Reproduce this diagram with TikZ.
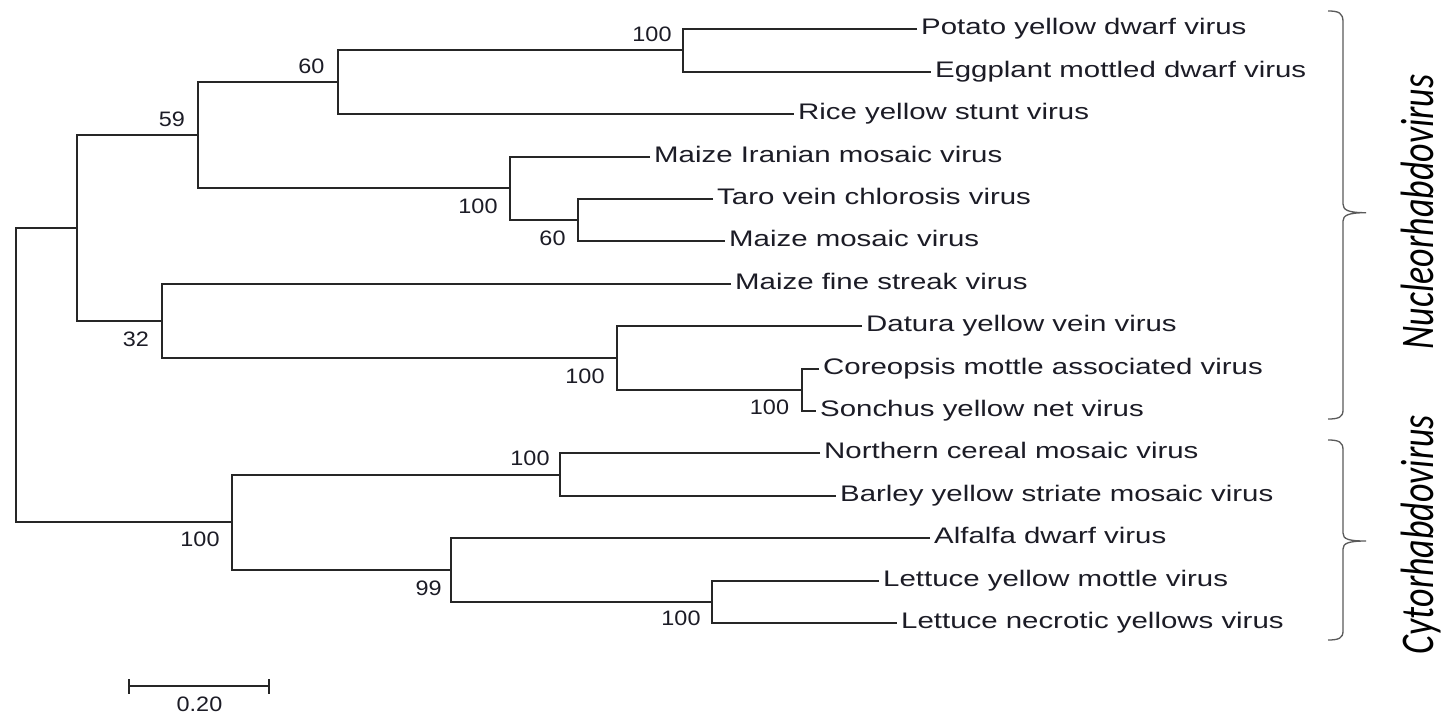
\documentclass[tikz,border=0pt]{standalone}
\usepackage{graphicx}
\usepackage{fontspec}
\setmainfont{Liberation Sans}
\newfontfamily\genusfont{Carlito}
\newcommand\lbx[1]{\scalebox{1.307}[1]{#1}}
\newcommand\nbx[1]{\scalebox{1.12}[1]{#1}}
\newcommand\gbx[1]{\scalebox{1}[1.3]{#1}}
\definecolor{linec}{HTML}{262626}
\definecolor{textc}{HTML}{1C1C26}
\definecolor{bracec}{HTML}{5A5A5A}
\begin{document}
\begin{tikzpicture}[x=1pt,y=-1pt,
  br/.style={draw=linec,line width=2pt,line join=miter},
  leaf/.style={anchor=west,inner xsep=4pt,inner ysep=0pt,text height=10pt,text depth=0pt,
    text=textc,font=\fontsize{22.5pt}{25pt}\selectfont},
  bs/.style={inner sep=0pt,text height=15pt,text depth=0pt,text=textc,
    font=\fontsize{20.9pt}{23pt}\selectfont},
  genus/.style={rotate=90,anchor=base,inner sep=0pt,text=black,
    font=\genusfont\itshape\fontsize{36pt}{40pt}\selectfont},
  brace/.style={draw=bracec,line width=1.3pt}]
\fill[white] (0,0) rectangle (1443,715);
\useasboundingbox (0,0) rectangle (1443,715);

% leaves
\node[leaf] (L0)  at (917,29)  {\lbx{Potato yellow dwarf virus}};
\node[leaf] (L1)  at (931,72)  {\lbx{Eggplant mottled dwarf virus}};
\node[leaf] (L2)  at (794,114) {\lbx{Rice yellow stunt virus}};
\node[leaf] (L3)  at (650,157) {\lbx{Maize Iranian mosaic virus}};
\node[leaf] (L4)  at (713,199) {\lbx{Taro vein chlorosis virus}};
\node[leaf] (L5)  at (725,241) {\lbx{Maize mosaic virus}};
\node[leaf] (L6)  at (731,284) {\lbx{Maize fine streak virus}};
\node[leaf] (L7)  at (862,326) {\lbx{Datura yellow vein virus}};
\node[leaf] (L8)  at (819,369) {\lbx{Coreopsis mottle associated virus}};
\node[leaf] (L9)  at (816,411) {\lbx{Sonchus yellow net virus}};
\node[leaf] (L10) at (820,453) {\lbx{Northern cereal mosaic virus}};
\node[leaf] (L11) at (836,496) {\lbx{Barley yellow striate mosaic virus}};
\node[leaf] (L12) at (930,538) {\lbx{Alfalfa dwarf virus}};
\node[leaf] (L13) at (879,581) {\lbx{Lettuce yellow mottle virus}};
\node[leaf] (L14) at (897,623) {\lbx{Lettuce necrotic yellows virus}};

% internal nodes
\coordinate (nPE) at (683,50);
\coordinate (n60) at (338,82);
\coordinate (nTM) at (578,220);
\coordinate (nMI) at (510,188);
\coordinate (n59) at (198,135);
\coordinate (nCS) at (802,390);
\coordinate (nD)  at (617,358);
\coordinate (n32) at (162,321);
\coordinate (nA)  at (77,228);
\coordinate (nNB) at (560,475);
\coordinate (nLL) at (712,602);
\coordinate (n99) at (451,570);
\coordinate (nC)  at (232,522);
\coordinate (root) at (16,375);

% branches
\draw[br] (L0.west) -| (nPE) |- (L1.west);
\draw[br] (nPE) -| (n60) |- (L2.west);
\draw[br] (L4.west) -| (nTM) |- (L5.west);
\draw[br] (L3.west) -| (nMI) |- (nTM);
\draw[br] (n60) -| (n59) |- (nMI);
\draw[br] (L8.west) -| (nCS) |- (L9.west);
\draw[br] (L7.west) -| (nD) |- (nCS);
\draw[br] (L6.west) -| (n32) |- (nD);
\draw[br] (n59) -| (nA) |- (n32);
\draw[br] (L10.west) -| (nNB) |- (L11.west);
\draw[br] (L13.west) -| (nLL) |- (L14.west);
\draw[br] (L12.west) -| (n99) |- (nLL);
\draw[br] (nNB) -| (nC) |- (n99);
\draw[br] (nA) -| (root) |- (nC);

% bootstrap values
\node[bs] (b1)  at (652,34)      {\nbx{100}};
\node[bs] (b2)  at (311.5,65.5)  {\nbx{60}};
\node[bs] (b3)  at (172,118.5)   {\nbx{59}};
\node[bs] (b4)  at (478,205.5)   {\nbx{100}};
\node[bs] (b5)  at (552.5,238.3) {\nbx{60}};
\node[bs] (b6)  at (136,339)     {\nbx{32}};
\node[bs] (b7)  at (585,375.5)   {\nbx{100}};
\node[bs] (b8)  at (769.5,407)   {\nbx{100}};
\node[bs] (b9)  at (530,457.5)   {\nbx{100}};
\node[bs] (b10) at (200,539)     {\nbx{100}};
\node[bs] (b11) at (428.6,588)   {\nbx{99}};
\node[bs] (b12) at (681,618)     {\nbx{100}};

% scale bar
\coordinate (sbL) at (129,686);
\coordinate (sbR) at (269,686);
\draw[br] (sbL) -- (sbR);
\draw[br] ([yshift=-7.5pt]sbL) -- ([yshift=7.5pt]sbL);
\draw[br] ([yshift=-7.5pt]sbR) -- ([yshift=7.5pt]sbR);
\node[bs] (sbt) at (199.5,703.5) {\nbx{0.20}};

% braces
\draw[brace] (1328,11) .. controls (1339,11) and (1343,13) .. (1343,22)
  -- (1343,204) .. controls (1343,210) and (1348,212.7) .. (1366,212.7)
  .. controls (1348,212.7) and (1343,215.5) .. (1343,221)
  -- (1343,410) .. controls (1343,417) and (1339,419) .. (1328,419);
\draw[brace] (1328,440) .. controls (1339,440) and (1343,442) .. (1343,450)
  -- (1343,533) .. controls (1343,539) and (1348,541) .. (1366,541)
  .. controls (1348,541) and (1343,543.5) .. (1343,549)
  -- (1343,631) .. controls (1343,638) and (1339,640) .. (1328,640);

% genus labels
\node[genus] (nucleo) at (1433,212) {\gbx{Nucleorhabdovirus}};
\node[genus] (cyto) at (1433,534.5) {\gbx{Cytorhabdovirus}};
\end{tikzpicture}
\end{document}
